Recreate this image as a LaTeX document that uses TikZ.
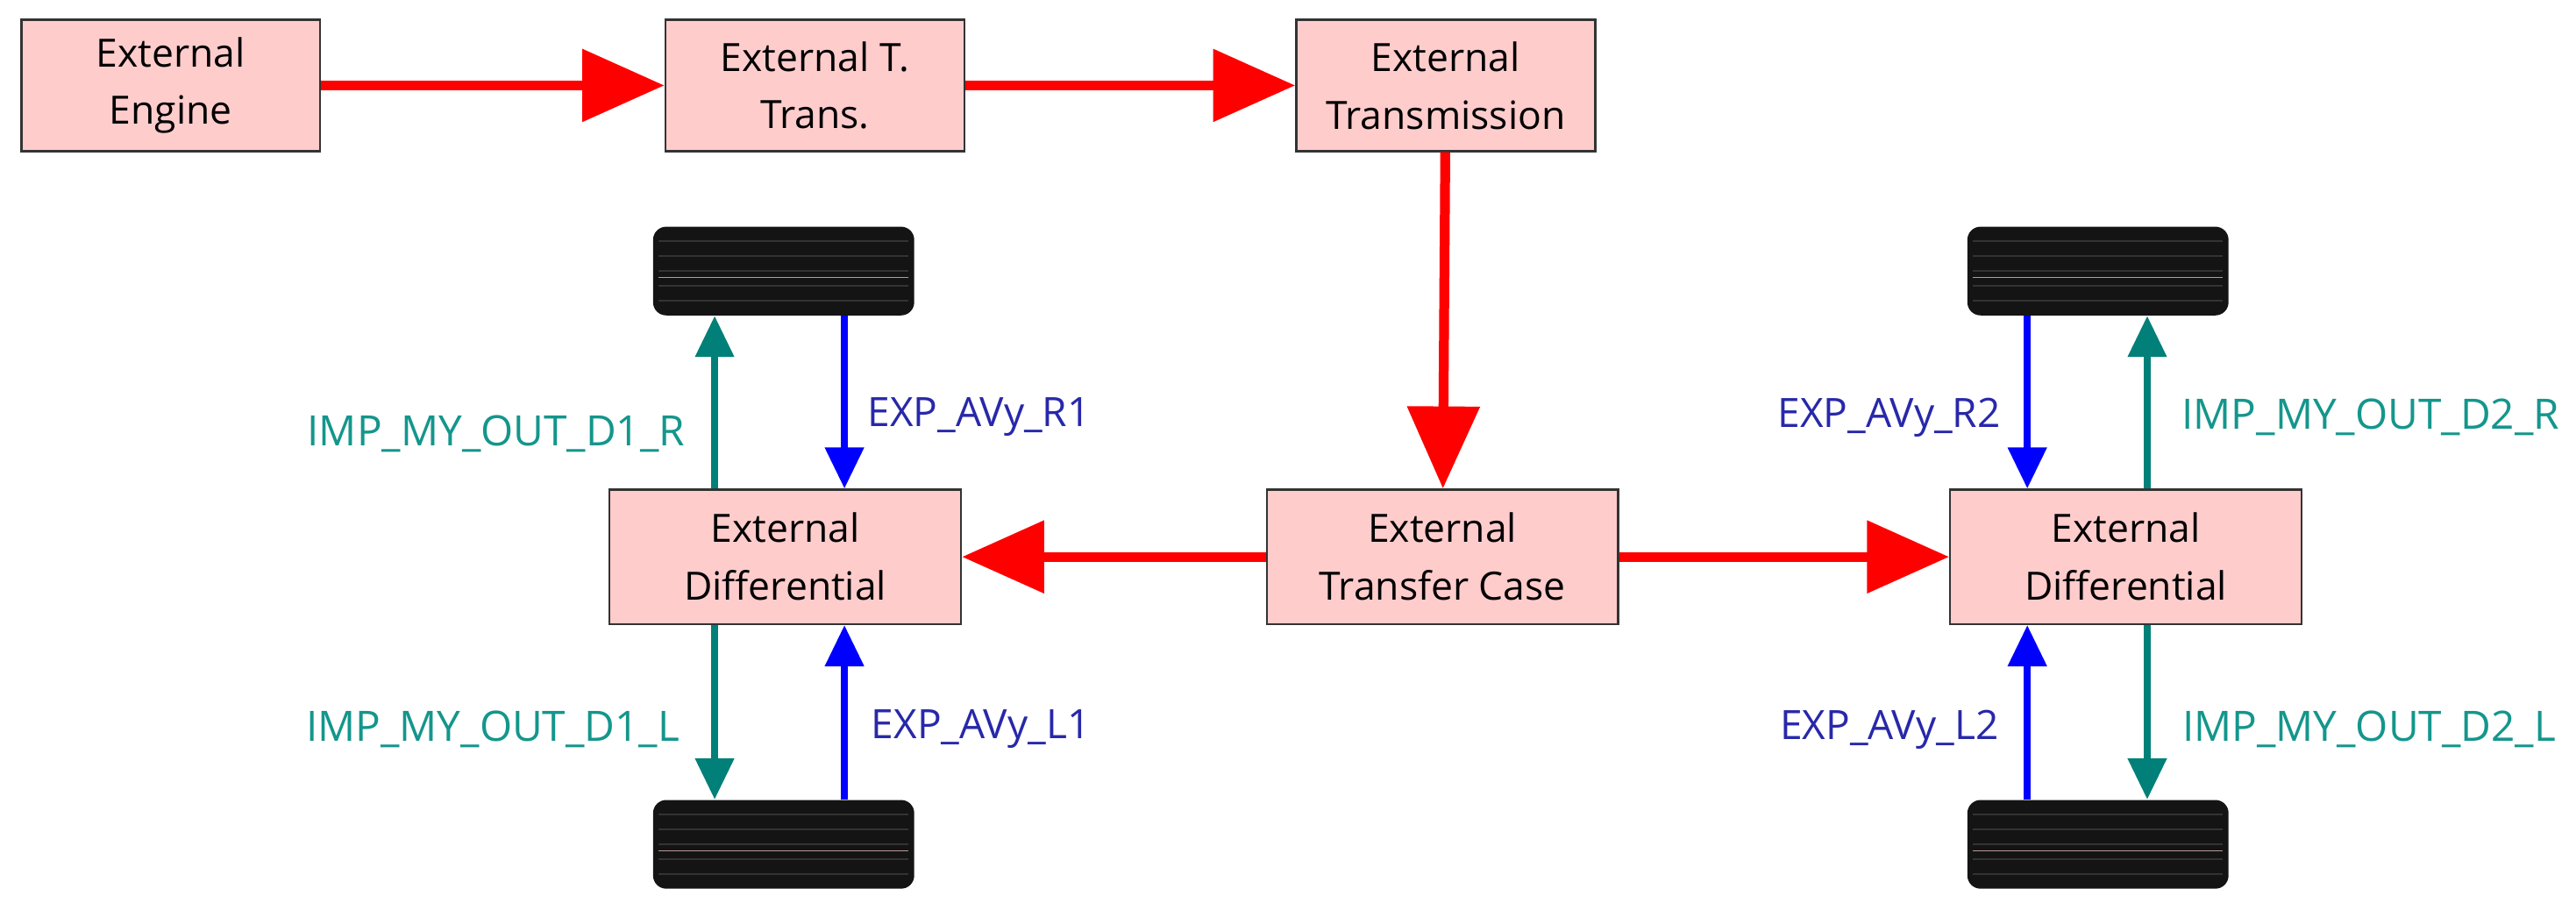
\documentclass[tikz,border=0pt]{standalone}
\usepackage{fontspec}
\setmainfont{Open Sans}
\usetikzlibrary{arrows.meta}
\definecolor{boxfill}{RGB}{255,204,204}
\definecolor{tealc}{RGB}{0,128,120}
\definecolor{tealt}{RGB}{20,150,140}
\definecolor{bluet}{RGB}{40,40,170}
\begin{document}
\begin{tikzpicture}[x=0.02cm,y=-0.02cm,
  blk/.style={draw=black!80,line width=0.7pt,fill=boxfill,minimum width=3.64cm,minimum height=1.6cm,align=center,font=\fontsize{13.5}{20}\selectfont,inner sep=0pt},
  wide/.style={blk,minimum width=4.28cm,minimum height=1.64cm},
  red/.style={draw=red,line width=0.12cm,-{Triangle[length=1cm,width=0.86cm]}},
  tl/.style={draw=tealc,line width=0.08cm,-{Triangle[length=0.5cm,width=0.46cm]}},
  bl/.style={draw=blue,line width=0.08cm,-{Triangle[length=0.5cm,width=0.46cm]}},
  tirestyle/.style={fill=black!92,rounded corners=0.16cm,draw=none,minimum width=3.18cm,minimum height=1.08cm,inner sep=0pt},
  lt/.style={text=tealt,font=\fontsize{14.5}{17}\selectfont},
  lb/.style={text=bluet,font=\fontsize{14}{17}\selectfont}]
\useasboundingbox (0,0) rectangle (1568,558);
\node[blk] (eng) at (104,52) {External\\Engine};
\node[blk] (tt) at (496,52) {External T.\\Trans.};
\node[blk] (tr) at (880,52) {External\\Transmission};
\node[wide] (tc) at (878,339) {External\\Transfer Case};
\node[wide] (dl) at (478,339) {External\\Differential};
\node[wide] (dr) at (1294,339) {External\\Differential};
\foreach \n/\x/\y in {tlt/477/165,tlb/477/514,trt/1277/165,trb/1277/514}{
  \node[tirestyle] (\n) at (\x,\y) {};
  \foreach \k in {-18,-9,0,9,18}{
    \draw[black!80,line width=0.6pt] (\x-76,\y+\k) -- (\x+76,\y+\k);}
  \draw[black!70!red!40,line width=0.4pt] (\x-76,\y+4) -- (\x+76,\y+4);
}
\draw[red] (eng) -- (tt);
\draw[red] (tt) -- (tr);
\draw[red] (tr) -- (tc);
\draw[red] (tc) -- (dl);
\draw[red] (tc) -- (dr);
% left
\draw[tl] (dl.north -| 435,0) -- (tlt.south -| 435,0);
\draw[bl] (tlt.south -| 514,0) -- (dl.north -| 514,0);
\draw[tl] (dl.south -| 435,0) -- (tlb.north -| 435,0);
\draw[bl] (tlb.north -| 514,0) -- (dl.south -| 514,0);
% right
\draw[bl] (trt.south -| 1234,0) -- (dr.north -| 1234,0);
\draw[tl] (dr.north -| 1307,0) -- (trt.south -| 1307,0);
\draw[bl] (trb.north -| 1234,0) -- (dr.south -| 1234,0);
\draw[tl] (dr.south -| 1307,0) -- (trb.north -| 1307,0);
\node[lt] (l1) at (302,264) {IMP\_MY\_OUT\_D1\_R};
\node[lb] (l2) at (596,254) {EXP\_AVy\_R1};
\node[lt] (l3) at (300,444) {IMP\_MY\_OUT\_D1\_L};
\node[lb] (l4) at (597,444) {EXP\_AVy\_L1};
\node[lb] (l5) at (1150,254) {EXP\_AVy\_R2};
\node[lt] (l6) at (1443,254) {IMP\_MY\_OUT\_D2\_R};
\node[lb] (l7) at (1150,444) {EXP\_AVy\_L2};
\node[lt] (l8) at (1442,444) {IMP\_MY\_OUT\_D2\_L};
\end{tikzpicture}
\end{document}
